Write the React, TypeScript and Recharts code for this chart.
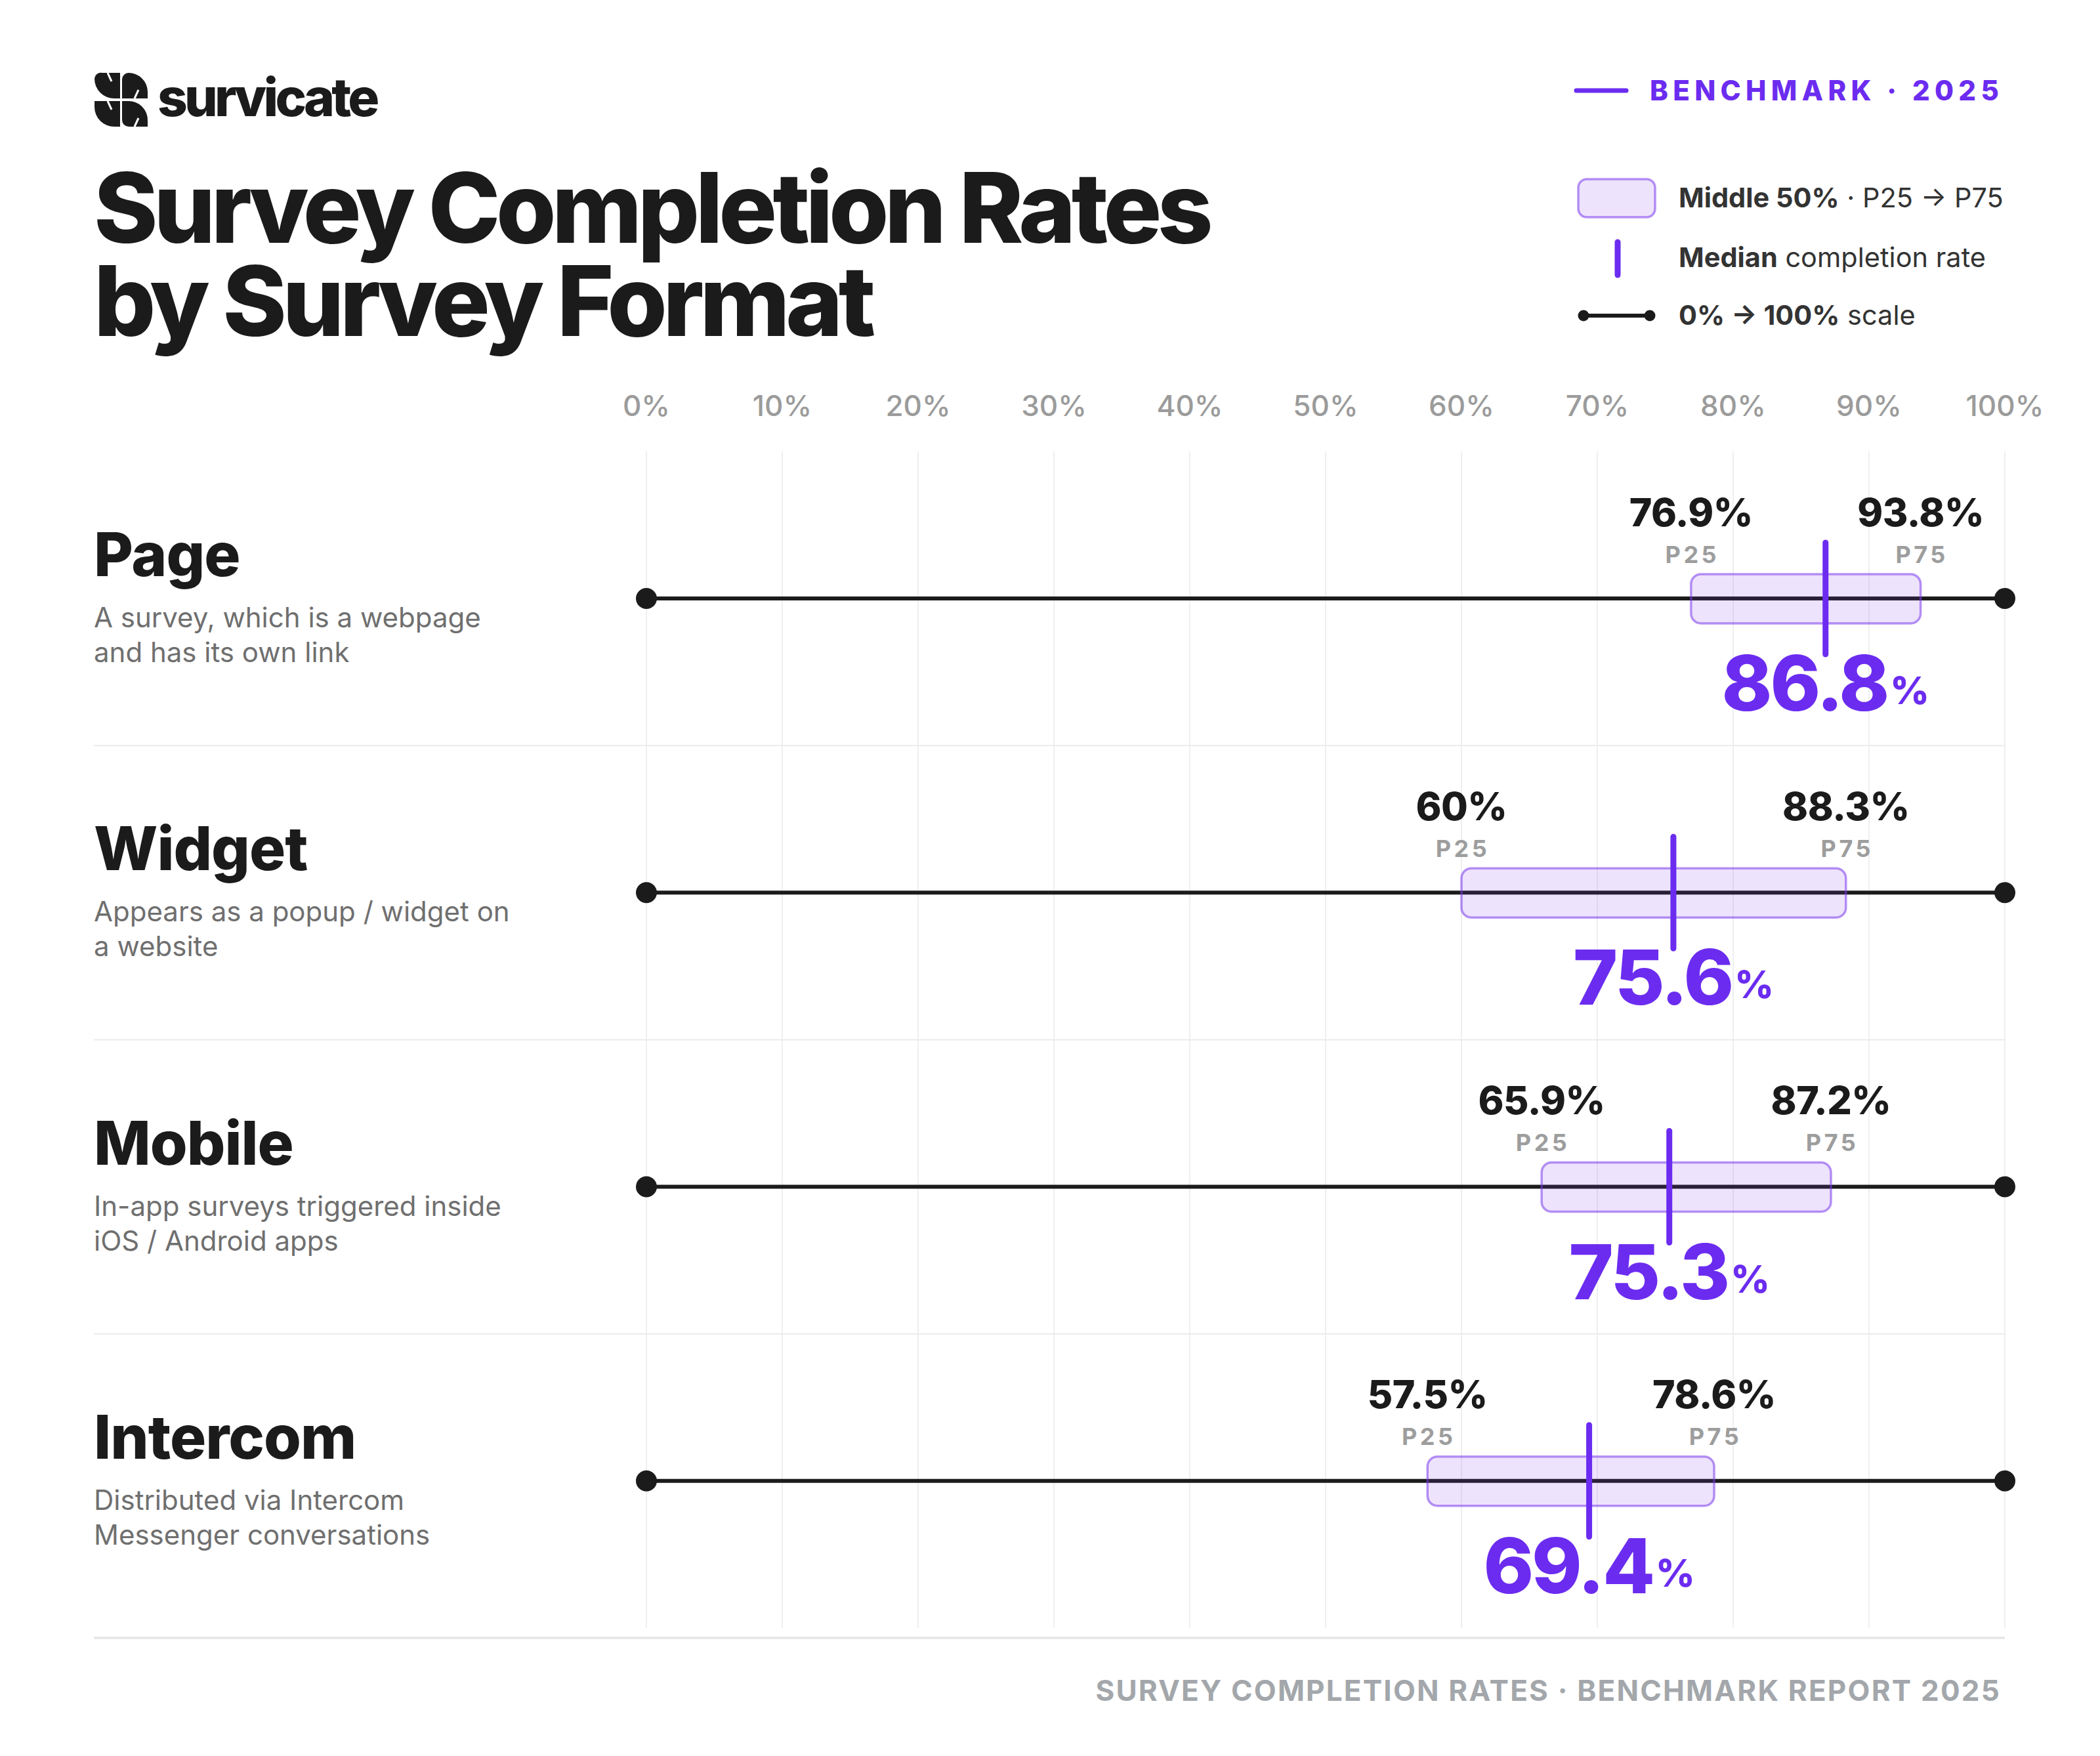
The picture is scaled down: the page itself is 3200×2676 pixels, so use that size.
import React from 'react';
import { ComposedChart, Bar, XAxis, YAxis, CartesianGrid, ReferenceLine } from 'recharts';

const FORMATS = ['Page', 'Widget', 'Mobile', 'Intercom'];
const DESCRIPTIONS = [
  ['A survey, which is a webpage', 'and has its own link'],
  ['Appears as a popup / widget on', 'a website'],
  ['In-app surveys triggered inside', 'iOS / Android apps'],
  ['Distributed via Intercom', 'Messenger conversations'],
];
const P25 = [76.9, 60, 65.9, 57.5];
const P75 = [93.8, 88.3, 87.2, 78.6];
const MEDIAN = [86.8, 75.6, 75.3, 69.4];
const DOMAIN: [number, number] = [0, 100];
const X_TICKS = [0, 10, 20, 30, 40, 50, 60, 70, 80, 90, 100];

const rows = FORMATS.map((name, i) => ({
  name,
  scale: DOMAIN,
  iqr: [P25[i], P75[i]],
  p25: P25[i],
  p75: P75[i],
  median: MEDIAN[i],
}));

const W = 3200;
const H = 2676;
const FONT = "Inter, 'Noto Sans', sans-serif";
const PURPLE = '#6b2cf0';
const INK = '#1b1b1b';
const LABEL_X = 143;

function ScaleShape(props: any) {
  const { x, y, width, height } = props;
  const cy = y + height / 2;
  return (
    <g>
      <line x1={x} x2={x + width} y1={cy} y2={cy} stroke={INK} strokeWidth={6} />
      <circle cx={x} cy={cy} r={16} fill={INK} />
      <circle cx={x + width} cy={cy} r={16} fill={INK} />
    </g>
  );
}

function BoxShape(props: any) {
  const { x, y, width, height, payload } = props;
  const cy = y + height / 2;
  const ends: [number, number, string][] = [
    [x, payload.p25, 'P25'],
    [x + width, payload.p75, 'P75'],
  ];
  return (
    <g>
      <rect x={x} y={y} width={width} height={height} rx={15} fill="rgba(124,58,237,0.14)" stroke="rgba(124,58,237,0.55)" strokeWidth={3.5} />
      {ends.map(([px, v, tag]) => (
        <g key={tag}>
          <text x={px} y={cy - 111} textAnchor="middle" fontSize={59} fontWeight={800} fill={INK} letterSpacing={-0.5}>{`${v}%`}</text>
          <text x={px + 2} y={cy - 55} textAnchor="middle" fontSize={36} fontWeight={700} fill="#9d9d9d" letterSpacing={4.5}>{tag}</text>
        </g>
      ))}
    </g>
  );
}

function MedianShape(props: any) {
  const { x, y, width, height, payload } = props;
  const mx = x + width;
  const cy = y + height / 2;
  return (
    <g>
      <line x1={mx} x2={mx} y1={y} y2={y + height} stroke={PURPLE} strokeWidth={9} strokeLinecap="round" />
      <text x={mx} y={cy + 171} textAnchor="middle" fill={PURPLE} fontWeight={800}>
        <tspan fontSize={116} letterSpacing={-3}>{payload.median}</tspan>
        <tspan fontSize={58} dx={4} dy={-10}>%</tspan>
      </text>
    </g>
  );
}

function RowLabel(props: any) {
  const { y, payload } = props;
  const i = FORMATS.indexOf(payload.value);
  return (
    <g>
      <text x={LABEL_X} y={y - 34} fontSize={92} fontWeight={800} fill={INK} letterSpacing={-1}>{payload.value}</text>
      {DESCRIPTIONS[i].map((line, k) => (
        <text key={k} x={LABEL_X} y={y + 44 + k * 53} fontSize={42} fill="#6f6f6f">{line}</text>
      ))}
    </g>
  );
}

function PctTick(props: any) {
  const { x, payload } = props;
  return (
    <text x={x} y={634} textAnchor="middle" fontSize={44} fontWeight={500} fill="#9b9b9b">{`${payload.value}%`}</text>
  );
}

function Separator(props: any) {
  return <line x1={LABEL_X} x2={props.x2} y1={props.y1} y2={props.y2} stroke="#ebebeb" strokeWidth={2} />;
}

function Header() {
  return (
    <svg width={W} height={H} style={{ position: 'absolute', left: 0, top: 0 }} fontFamily={FONT}>
      {/* logo mark */}
      <g fill={INK}>
        <path d="M156,111 L183,111 L183,150 L174,150 A30,30 0 0 1 144,120 L144,123 L144,121 A10,10 0 0 1 156,111 Z" />
        <path d="M186,111 L195,111 A29,29 0 0 1 225,140 L225,150 L186,150 L186,121 A10,10 0 0 1 196,111 Z" />
        <path d="M144,154 L183,154 L183,193 L174,193 A30,30 0 0 1 144,163 Z" />
        <path d="M186,154 L195,154 A29,29 0 0 1 225,184 L225,193 L196,193 A10,10 0 0 1 186,183 Z" />
      </g>
      <g stroke="#fff" strokeWidth={3}>
        <line x1={164} y1={111} x2={170} y2={124} />
        <line x1={205} y1={150} x2={211} y2={137} />
        <line x1={164} y1={154} x2={170} y2={167} />
        <line x1={205} y1={193} x2={211} y2={180} />
      </g>
      <text x={240} y={177} fontSize={80} fontWeight={800} fill={INK} letterSpacing={-4.8}>survicate</text>

      {/* title */}
      <text x={143} y={370} fontSize={148} fontWeight={800} fill={INK} letterSpacing={-6.5}>Survey Completion Rates</text>
      <text x={143} y={512} fontSize={148} fontWeight={800} fill={INK} letterSpacing={-6.5}>by Survey Format</text>

      {/* benchmark tag */}
      <line x1={2402} x2={2478} y1={138} y2={138} stroke={PURPLE} strokeWidth={7} strokeLinecap="round" />
      <text x={2514} y={153} fontSize={42} fontWeight={800} fill={PURPLE} letterSpacing={7.3}>BENCHMARK · 2025</text>

      {/* legend */}
      <rect x={2405} y={273} width={117} height={58} rx={13} fill="rgba(124,58,237,0.14)" stroke="rgba(124,58,237,0.55)" strokeWidth={3.5} />
      <text x={2558} y={316} fontSize={41.5} fill="#333">
        <tspan fontWeight={700}>Middle 50%</tspan><tspan> · P25 → P75</tspan>
      </text>
      <line x1={2465} x2={2465} y1={369} y2={419} stroke={PURPLE} strokeWidth={9} strokeLinecap="round" />
      <text x={2558} y={407} fontSize={41.5} fill="#333">
        <tspan fontWeight={700}>Median</tspan><tspan> completion rate</tspan>
      </text>
      <line x1={2413} x2={2514} y1={481} y2={481} stroke={INK} strokeWidth={6} />
      <circle cx={2413} cy={481} r={8.5} fill={INK} />
      <circle cx={2514} cy={481} r={8.5} fill={INK} />
      <text x={2558} y={495} fontSize={41.5} fill="#333">
        <tspan fontWeight={700}>0% → 100%</tspan><tspan> scale</tspan>
      </text>

      {/* footer */}
      <line x1={143} x2={3055} y1={2496} y2={2496} stroke="#e6e6e6" strokeWidth={3.5} />
      <text x={3049} y={2592} textAnchor="end" fontSize={44} fontWeight={700} fill="#a3a7ab" letterSpacing={2.2}>
        SURVEY COMPLETION RATES · BENCHMARK REPORT 2025
      </text>
    </svg>
  );
}

export default function App() {
  return (
    <div style={{ position: 'relative', width: W, height: H, background: '#fff', fontFamily: FONT }}>
      <style>{'body{margin:0}'}</style>
      <Header />
      <div style={{ position: 'absolute', left: 0, top: 0 }}>
        <ComposedChart
          width={W}
          height={H}
          data={rows}
          layout="vertical"
          margin={{ top: 608, right: 145, bottom: 195, left: 0 }}
          style={{ fontFamily: FONT }}
        >
          <XAxis type="number" domain={DOMAIN} ticks={X_TICKS} orientation="top" height={80} axisLine={false} tickLine={false} tick={<PctTick />} interval={0} />
          <YAxis yAxisId="label" type="category" dataKey="name" width={985} axisLine={false} tickLine={false} tick={<RowLabel />} />
          <YAxis yAxisId="box" type="category" dataKey="name" hide />
          <YAxis yAxisId="median" type="category" dataKey="name" hide />
          <CartesianGrid yAxisId="label" horizontal={false} stroke="#efefef" strokeWidth={2} />
          {FORMATS.slice(0, -1).map((f) => (
            <ReferenceLine key={f} yAxisId="label" y={f} position="end" shape={<Separator />} />
          ))}
          <Bar yAxisId="label" dataKey="scale" barSize={32} shape={<ScaleShape />} isAnimationActive={false} />
          <Bar yAxisId="box" dataKey="iqr" barSize={75} shape={<BoxShape />} isAnimationActive={false} />
          <Bar yAxisId="median" dataKey="median" barSize={170} shape={<MedianShape />} isAnimationActive={false} />
        </ComposedChart>
      </div>
    </div>
  );
}
